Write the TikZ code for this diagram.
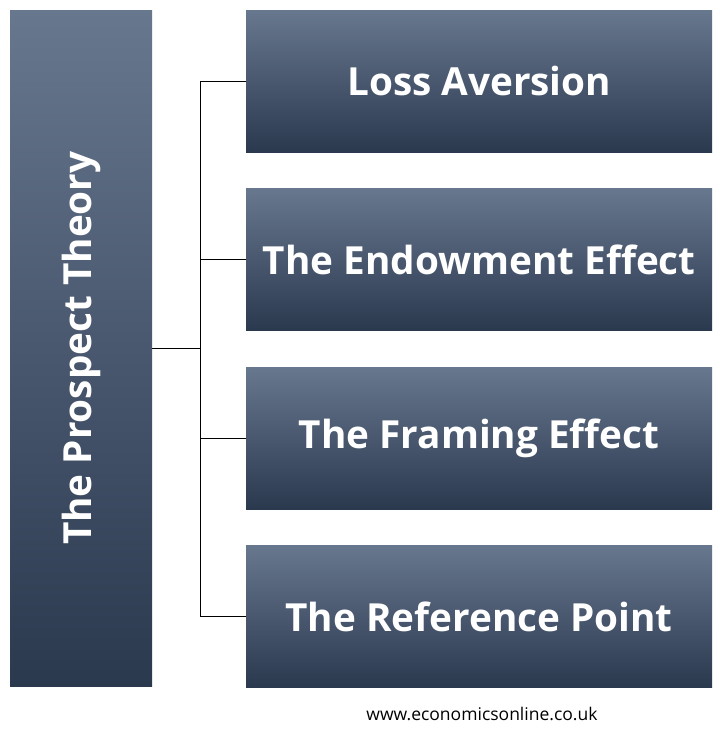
\documentclass[tikz,border=0pt]{standalone}
\usepackage{fontspec}
\setmainfont{Open Sans}
\usetikzlibrary{positioning}
\tikzset{
  topic/.style={draw=none, top color=boxtop, bottom color=boxbot, minimum width=466pt, minimum height=142pt,
    text=white, font=\bfseries\fontsize{38.7}{44}\selectfont, inner sep=0pt},
  link/.style={black, line width=0.8pt}
}
\definecolor{boxtop}{HTML}{67778E}
\definecolor{boxbot}{HTML}{2B394F}
\begin{document}
\begin{tikzpicture}[x=1pt,y=-1pt]
  \useasboundingbox[fill=white] (0,0) rectangle (720,731);
  % main box
  \node[topic, minimum width=142pt, minimum height=676pt, anchor=north west] (prospect) at (10,10) {};
  \node[text=white, font=\bfseries\fontsize{38.7}{44}\selectfont, rotate=90] at (prospect.center) {The Prospect Theory};
  % topics
  \node[topic, anchor=north west] (loss) at (246,10) {Loss Aversion};
  \node[topic, below=36pt of loss] (endow) {The Endowment Effect};
  \node[topic, below=36pt of endow] (frame) {The Framing Effect};
  \node[topic, below=36pt of frame] (refpt) {The Reference Point};
  % connectors
  \coordinate (hub) at (200,348);
  \draw[link] (prospect.east |- hub) -- (hub);
  \draw[link] (hub |- loss.west) -- (hub |- refpt.west);
  \foreach \t in {loss, endow, frame, refpt}
    \draw[link] (hub |- \t.west) -- (\t.west);
  \node[font=\fontsize{17.5}{20}\selectfont] (web) at (482,714) {www.economicsonline.co.uk};
\end{tikzpicture}
\end{document}
